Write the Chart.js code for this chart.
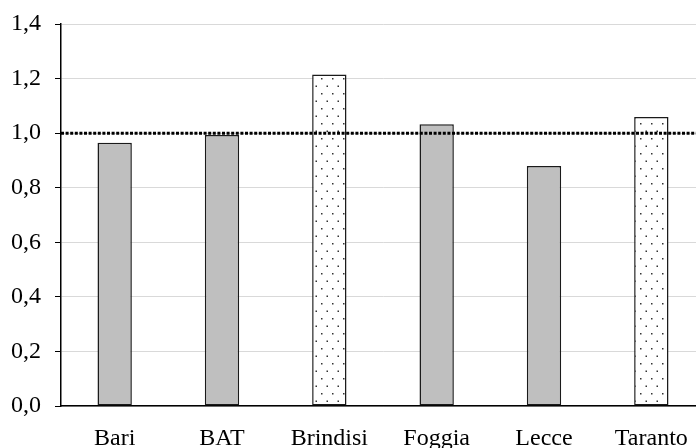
<!DOCTYPE html>
<html>
<head>
<meta charset="utf-8">
<script src="https://cdn.jsdelivr.net/npm/chart.js@4"></script>
<style>
  html, body { margin: 0; padding: 0; background: #fff; overflow: hidden; }
  #wrap { width: 712px; height: 448px; }
</style>
</head>
<body>
<div id="wrap"><canvas id="grafico" width="712" height="448"></canvas></div>
<script>
/* Dati */
const PROVINCE = ["Bari", "BAT", "Brindisi", "Foggia", "Lecce", "Taranto"];
const VALORI = [0.965, 0.993, 1.215, 1.033, 0.88, 1.059];
const TRATTEGGIATE = [false, false, true, false, false, true];
const LINEA_RIF = 1.0;

/* pattern a puntini per le barre evidenziate */
function creaPuntini() {
    const c = document.createElement("canvas");
    c.width = 11;
    c.height = 15;
    const g = c.getContext("2d");
    g.fillStyle = "#fff";
    g.fillRect(0, 0, 11, 15);
    g.fillStyle = "#333";
    g.fillRect(2, 3, 1.5, 1.5);
    g.fillRect(7.5, 10.5, 1.5, 1.5);
    return g.createPattern(c, "repeat");
}

const puntini = creaPuntini();
const colori = TRATTEGGIATE.map(t => t ? puntini : "#bfbfbf");

/* linea tratteggiata a 1,0 */
const lineaRif = {
    id: "lineaRif",
    afterDatasetsDraw(chart) {
        const { ctx, chartArea, scales } = chart;
        const y = scales.y.getPixelForValue(LINEA_RIF);
        ctx.save();
        ctx.strokeStyle = "#000";
        ctx.lineWidth = 3;
        ctx.setLineDash([3, 1.6]);
        ctx.beginPath();
        ctx.moveTo(chartArea.left, y);
        ctx.lineTo(chartArea.right, y);
        ctx.stroke();
        ctx.restore();
    }
};

const FONT = { family: "'Liberation Serif', 'Times New Roman', serif", size: 24 };

new Chart(document.getElementById("grafico"), {
    type: "bar",
    data: {
        labels: PROVINCE,
        datasets: [{
            data: VALORI,
            backgroundColor: colori,
            borderColor: "#1a1a1a",
            borderWidth: 1.5,
            borderSkipped: false,
            categoryPercentage: 1,
            barPercentage: 0.32
        }]
    },
    options: {
        responsive: false,
        animation: false,
        layout: { padding: { top: 24, right: 7, left: 0, bottom: 0 } },
        plugins: { legend: { display: false }, tooltip: { enabled: false } },
        scales: {
            x: {
                grid: { display: false, drawTicks: false },
                border: { color: "#000", width: 1.5 },
                ticks: { color: "#000", padding: 18, font: FONT },
                afterFit(s) { s.height = 42; }
            },
            y: {
                min: 0,
                max: 1.4,
                grid: { color: "#d9d9d9", lineWidth: 1, tickColor: "#000", tickLength: 6 },
                border: { color: "#000", width: 1.5 },
                ticks: {
                    stepSize: 0.2,
                    color: "#000",
                    padding: 14,
                    font: FONT,
                    callback: v => v.toFixed(1).replace(".", ",")
                },
                afterFit(s) { s.width = 61; s.paddingTop = 0; s.paddingBottom = 0; }
            }
        }
    },
    plugins: [lineaRif]
});
</script>
</body>
</html>
